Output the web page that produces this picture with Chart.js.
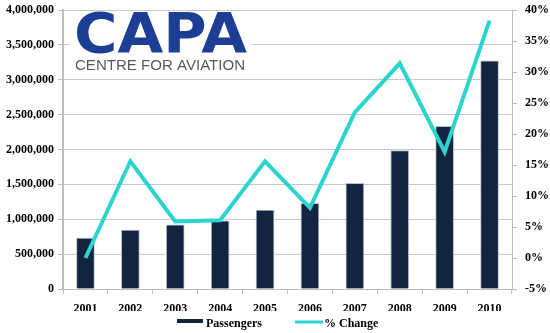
<!DOCTYPE html>
<html>
<head>
<meta charset="utf-8">
<script src="https://cdn.jsdelivr.net/npm/chart.js@4.4.1/dist/chart.umd.min.js"></script>
<style>
  html, body { margin: 0; padding: 0; background: #fff; }
</style>
</head>
<body>
<canvas id="chart" width="550" height="333"></canvas>
<script>
const years = ["2001", "2002", "2003", "2004", "2005", "2006", "2007", "2008", "2009", "2010"]
const passengers = [729000, 845000, 921000, 978000, 1132000, 1228000, 1515000, 1986000, 2331000, 3271000]
const pctChange = [0.0, 15.6, 5.9, 6.1, 15.6, 8.1, 23.5, 31.4, 17.1, 38.3]

const serif = '"Liberation Serif", "DejaVu Serif", serif'
const gridColor = "#c8c8c8"
const axisColor = "#bdbdbd"
const barColor = "#12243f"
const lineColor = "#2bd4cf"

// draw text stretched to an exact width
function fitText(ctx, text, x, y, width) {
  const w = ctx.measureText(text).width
  ctx.save()
  ctx.translate(x, y)
  ctx.scale(width / w, 1)
  ctx.fillText(text, 0, 0)
  ctx.restore()
}

// CAPA logo sits on a white patch over the gridlines
const logoPlugin = {
  id: "logo",
  beforeDatasetsDraw(chart) {
    const ctx = chart.ctx
    ctx.save()
    ctx.fillStyle = "#fff"
    ctx.fillRect(70, 12, 182, 65)
    ctx.textBaseline = "alphabetic"
    ctx.fillStyle = "#1c3f95"
    ctx.font = 'bold 55px "DejaVu Sans"'
    fitText(ctx, "CAPA", 74, 52, 173)
    ctx.fillStyle = "#58595b"
    ctx.font = '14px "Liberation Sans"'
    fitText(ctx, "CENTRE FOR AVIATION", 75, 69.5, 170)
    ctx.restore()
  },
}

// legend drawn below the axis
const legendPlugin = {
  id: "customLegend",
  afterDraw(chart) {
    const ctx = chart.ctx
    const names = chart.data.datasets.map((d) => d.label)
    ctx.save()
    ctx.fillStyle = barColor
    ctx.fillRect(177, 319, 26, 4)
    ctx.strokeStyle = lineColor
    ctx.lineWidth = 3
    ctx.beginPath()
    ctx.moveTo(295, 322)
    ctx.lineTo(323, 322)
    ctx.stroke()
    ctx.fillStyle = "#000"
    ctx.font = "bold 12px " + serif
    ctx.textBaseline = "middle"
    ctx.fillText(names[0], 206, 324)
    ctx.fillText(names[1], 324, 324)
    ctx.restore()
  },
}

new Chart(document.getElementById("chart"), {
  type: "bar",
  data: {
    labels: years,
    datasets: [
      {
        label: "Passengers",
        data: passengers,
        yAxisID: "y",
        backgroundColor: barColor,
        borderColor: "#b9c1cc",
        borderWidth: 1,
        barThickness: 18,
        order: 2,
      },
      {
        type: "line",
        label: "% Change",
        data: pctChange,
        yAxisID: "y1",
        borderColor: lineColor,
        backgroundColor: lineColor,
        borderWidth: 4,
        pointRadius: 0,
        tension: 0,
        order: 1,
      },
    ],
  },
  options: {
    responsive: false,
    animation: false,
    layout: { padding: { top: 10, bottom: 22, left: 0, right: 0 } },
    plugins: {
      tooltip: { enabled: false },
      legend: { display: false },
    },
    scales: {
      x: {
        grid: {
          offset: true,
          drawOnChartArea: false,
          tickLength: 5,
          tickColor: axisColor,
        },
        border: { color: axisColor, width: 1 },
        ticks: {
          color: "#000",
          padding: 8,
          font: { family: serif, size: 12, weight: "bold" },
        },
        afterFit(scale) { scale.height = 22 },
      },
      y: {
        position: "left",
        min: 0,
        max: 4000000,
        grid: {
          color: gridColor,
          borderDash: [5, 4],
          tickLength: 5,
          tickColor: axisColor,
          tickBorderDash: [],
        },
        border: { color: axisColor, width: 2 },
        ticks: {
          stepSize: 500000,
          color: "#000",
          padding: 4,
          font: { family: serif, size: 12, weight: "bold" },
          callback: (v) => v.toLocaleString("en-US"),
        },
        afterFit(scale) {
          scale.width = 63
          scale.paddingTop = 0
        },
      },
      y1: {
        position: "right",
        min: -5,
        max: 40,
        grid: {
          drawOnChartArea: false,
          tickLength: 5,
          tickColor: axisColor,
        },
        border: { color: axisColor, width: 1 },
        ticks: {
          stepSize: 5,
          color: "#000",
          padding: 8,
          font: { family: serif, size: 12, weight: "bold" },
          callback: (v) => v + "%",
        },
        afterFit(scale) {
          scale.width = 38
          scale.paddingTop = 0
        },
      },
    },
  },
  plugins: [logoPlugin, legendPlugin],
})
</script>
</body>
</html>
